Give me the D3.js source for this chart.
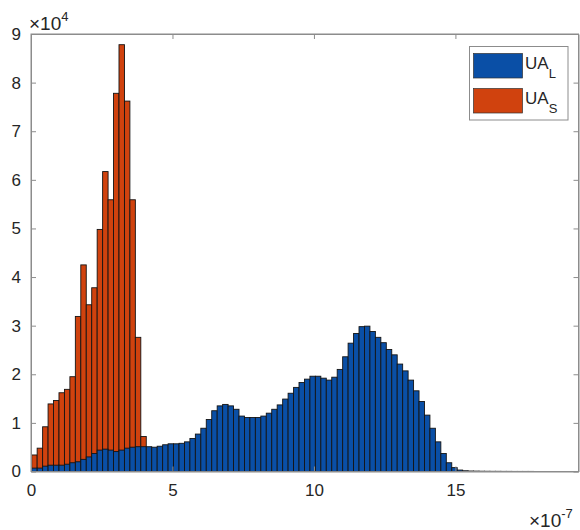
<!DOCTYPE html>
<html><head><meta charset="utf-8">
<script src="https://cdn.jsdelivr.net/npm/d3@7/dist/d3.min.js"></script>
<style>body{margin:0;background:#fff}svg{display:block}text{font-family:"Liberation Sans",Arial,sans-serif}</style>
</head><body>
<script>
// histogram bins (units of 1e-7), counts in units of 1e4
const binStart = 0.025;
const binWidth = 0.1928;
const seriesNames = ["UA", "UA"];
const seriesSubs = ["L", "S"];
const valuesS = [0.34,0.48,0.92,1.39,1.46,1.62,1.69,1.95,3.19,4.25,3.43,3.78,4.98,6.17,5.59,7.78,8.78,7.62,5.59,2.76,0.72];
const valuesL = [0.07,0.07,0.11,0.13,0.13,0.13,0.15,0.18,0.20,0.25,0.30,0.37,0.44,0.46,0.44,0.41,0.44,0.48,0.50,0.51,0.51,
  0.51,0.50,0.52,0.55,0.57,0.57,0.58,0.61,0.68,0.77,0.89,1.07,1.25,1.35,1.38,1.35,1.28,1.14,1.11,
  1.11,1.11,1.14,1.20,1.28,1.37,1.49,1.61,1.73,1.83,1.90,1.96,1.96,1.92,1.88,1.94,2.10,2.36,2.64,2.84,2.98,
  2.99,2.88,2.76,2.65,2.51,2.40,2.21,2.07,1.88,1.66,1.44,1.16,0.89,0.61,0.37,0.18,0.08,0.03,
  0.015,0.01,0.008,0.006,0.005,0.004,0.004,0.003,0.003,0.002,0.002,0.002,0.002,0.001,0.001,0.001,0.001,0.001,0.001,0.001,0.001];
const xTicks = [0,5,10,15];
const yTicks = [0,1,2,3,4,5,6,7,8,9];
const xDomain = [0, 19.35];
const yDomain = [0, 9];

const W = 580, H = 530;
const L = 31, R = 578.5, T = 34, B = 471.5;
const colL = "#0a4fa6", colS = "#d0420e";
const axisCol = "#8c8c8c", textCol = "#262626";

const svg = d3.select("body").append("svg").attr("width", W).attr("height", H);
const x = d3.scaleLinear().domain(xDomain).range([L, R]);
const y = d3.scaleLinear().domain(yDomain).range([B, T]);
const bw = x(binWidth) - x(0);

const plot = svg.append("g");
function drawBars(vals, col) {
  plot.append("g").selectAll("rect").data(vals).join("rect")
    .attr("x", (d, i) => x(binStart + i * binWidth))
    .attr("y", d => y(d))
    .attr("width", bw)
    .attr("height", d => Math.max(0, B - y(d)))
    .attr("fill", col)
    .attr("stroke", "#141414").attr("stroke-width", 0.9);
}
drawBars(valuesS, colS);
drawBars(valuesL, colL);

// axes box
const tickLen = 5;
const gx = svg.append("g").attr("transform", `translate(0,${B})`)
  .call(d3.axisBottom(x).tickValues(xTicks).tickSizeInner(-tickLen).tickSizeOuter(0).tickPadding(12));
const gxt = svg.append("g").attr("transform", `translate(0,${T})`)
  .call(d3.axisTop(x).tickValues(xTicks).tickSizeInner(-tickLen).tickSizeOuter(0).tickFormat(""));
const gy = svg.append("g").attr("transform", `translate(${L},0)`)
  .call(d3.axisLeft(y).tickValues(yTicks).tickSizeInner(-tickLen).tickSizeOuter(0).tickPadding(10));
const gyr = svg.append("g").attr("transform", `translate(${R},0)`)
  .call(d3.axisRight(y).tickValues(yTicks).tickSizeInner(-tickLen).tickSizeOuter(0).tickFormat(""));
[gx, gxt, gy, gyr].forEach(g => {
  g.selectAll("path.domain").attr("stroke", axisCol);
  g.selectAll(".tick line").attr("stroke", axisCol);
  g.selectAll(".tick text").attr("fill", textCol).style("font-size", "17px").attr("font-family", '"Liberation Sans",Arial,sans-serif');
});
svg.append("rect").attr("x", L).attr("y", T).attr("width", R - L).attr("height", B - T)
  .attr("fill", "none").attr("stroke", axisCol).attr("stroke-width", 1);

// exponent labels
const e1 = svg.append("text").attr("x", 29).attr("y", 30).attr("fill", textCol).style("font-size", "19px");
e1.append("tspan").text("\u00d710");
e1.append("tspan").attr("dy", -9).style("font-size", "13px").text("4");
const e2 = svg.append("text").attr("x", 529).attr("y", 527).attr("fill", textCol).style("font-size", "19px");
e2.append("tspan").text("\u00d710");
e2.append("tspan").attr("dy", -9).style("font-size", "13px").text("-7");

// legend
const lg = svg.append("g");
lg.append("rect").attr("x", 469.5).attr("y", 46.5).attr("width", 98.5).attr("height", 73.5)
  .attr("fill", "#fff").attr("stroke", axisCol).attr("stroke-width", 1);
[colL, colS].forEach((c, i) => {
  const yy = 53.5 + i * 35;
  lg.append("rect").attr("x", 473.5).attr("y", yy).attr("width", 49).attr("height", 24.5)
    .attr("fill", c).attr("stroke", "#333").attr("stroke-width", 0.7);
  const t = lg.append("text").attr("x", 525).attr("y", yy + 15).attr("fill", textCol).style("font-size", "17px");
  t.append("tspan").text(seriesNames[i]);
  t.append("tspan").attr("dy", 9).style("font-size", "13px").text(seriesSubs[i]);
});
</script>
</body></html>
